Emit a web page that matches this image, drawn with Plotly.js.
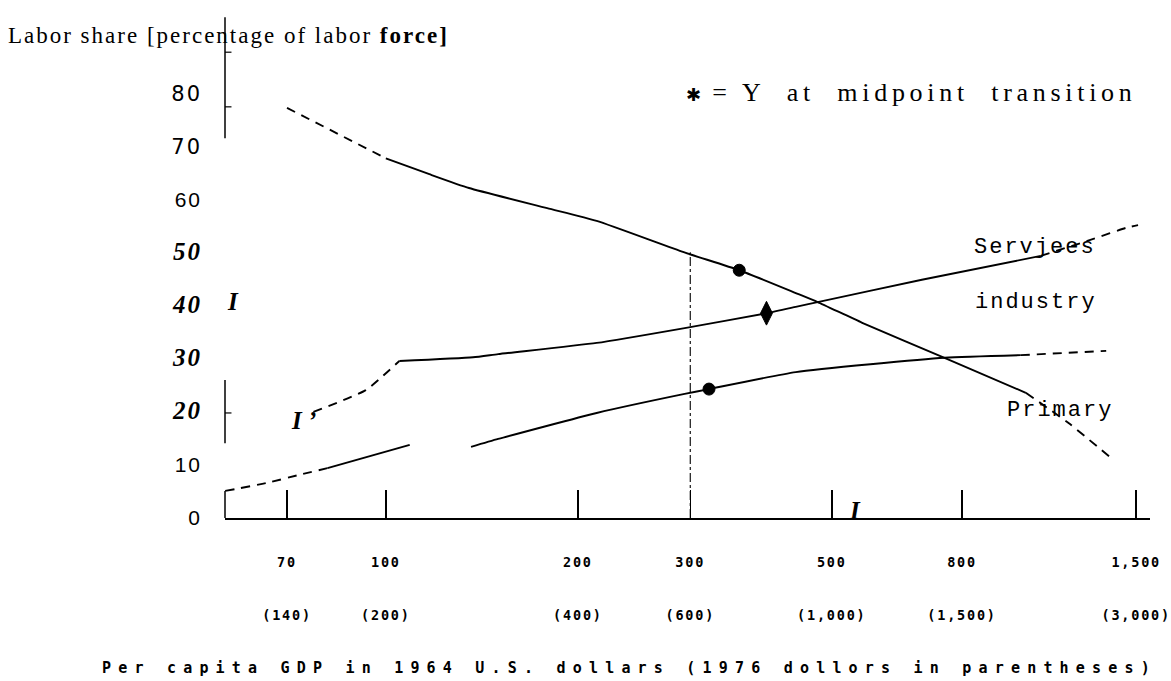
<!DOCTYPE html>
<html><head><meta charset="utf-8">
<script src="https://cdn.plot.ly/plotly-3.0.1.min.js"></script>
<style>html,body{margin:0;padding:0;background:#fff}#chart{width:1171px;height:681px}</style>
</head><body><div id="chart"></div>
<script>
// ---- data ----
const xTickValues = [70, 100, 200, 300, 500, 800, 1500];
const xTickLabels1964 = ["70", "100", "200", "300", "500", "800", "1,500"];
const xTickLabels1976 = ["(140)", "(200)", "(400)", "(600)", "(1,000)", "(1,500)", "(3,000)"];
const yTickValues = [0, 10, 20, 30, 40, 50, 60, 70, 80];
const yTickLabels = ["0", "10", "20", "30", "40", "50", "60", "70", "80"];

const primaryEarlyX = [70, 100];
const primaryEarlyY = [77.3, 67.8];
const primaryX = [100, 117, 135, 179, 214, 293, 358, 439, 475, 558, 751, 1007];
const primaryY = [67.8, 64.8, 62.2, 58.4, 56.0, 50.1, 46.7, 42.4, 40.7, 36.8, 30.2, 23.6];
const primaryLateX = [1007, 1175, 1370];
const primaryLateY = [23.6, 17.9, 11.3];

const servicesEarlyX = [77, 93, 105];
const servicesEarlyY = [20.0, 24.1, 29.6];
const servicesX = [105, 137, 150, 214, 294, 395, 439, 475, 692, 1063];
const servicesY = [29.6, 30.3, 30.9, 33.0, 35.8, 38.6, 39.8, 40.7, 44.9, 49.4];
const servicesLateX = [1063, 1285, 1446, 1510];
const servicesLateY = [49.4, 52.6, 54.7, 55.2];

const industryEarlyX = [56, 65, 73, 81];
const industryEarlyY = [5.1, 6.6, 8.1, 9.4];
const industryX = [81, 109, null, 136, 150, 214, 294, 321, 439, 751, 989];
const industryY = [9.4, 13.8, null, 13.4, 14.9, 19.8, 23.4, 24.3, 27.5, 30.2, 30.7];
const industryLateX = [989, 1346];
const industryLateY = [30.7, 31.5];

const midpointX = [358, 395, 321];
const midpointY = [46.7, 38.6, 24.3];
const midpointSymbols = ["circle", "diamond-tall", "circle"];

const referenceGdp = [300, 300];
const referenceShare = [0, 50.1];

// ---- styling helpers ----
const INK = "#000";
const serif = "Liberation Serif, Times New Roman, serif";
const mono = "Liberation Mono, DejaVu Sans Mono, monospace";
function spaced(t, px) { return '<span style="letter-spacing:' + px + 'px">' + t + '</span>'; }

const solid = { color: INK, width: 1.9, shape: "spline", smoothing: 0.5 };
const dashed = { color: INK, width: 1.9, dash: "9px,7px", shape: "spline", smoothing: 0.5 };

function tr(x, y, line, name) {
  return { x: x, y: y, mode: "lines", line: line, name: name, hoverinfo: "skip", connectgaps: false };
}

const traces = [
  tr(primaryEarlyX, primaryEarlyY, dashed, "Primary"),
  tr(primaryX, primaryY, solid, "Primary"),
  tr(primaryLateX, primaryLateY, dashed, "Primary"),
  tr(servicesEarlyX, servicesEarlyY, dashed, "Services"),
  tr(servicesX, servicesY, solid, "Services"),
  tr(servicesLateX, servicesLateY, dashed, "Services"),
  tr(industryEarlyX, industryEarlyY, dashed, "Industry"),
  tr(industryX, industryY, solid, "Industry"),
  tr(industryLateX, industryLateY, dashed, "Industry"),
  tr(referenceGdp, referenceShare, { color: INK, width: 1.1, dash: "dashdot" }, "Reference"),
  { x: midpointX, y: midpointY, mode: "markers", name: "Midpoint",
    marker: { color: INK, opacity: 1, size: [12, 17, 12], symbol: midpointSymbols, line: { width: 1, color: INK } }, hoverinfo: "skip" }
];

const xTickText = xTickLabels1964.map((t, i) =>
  spaced(t, 1.8) + "<br><br><br>" + spaced(xTickLabels1976[i], 1.8));

const yStyles = {
  "80": "font-family:DejaVu Sans;font-size:21px",
  "70": "font-family:DejaVu Sans;font-size:21px",
  "60": "font-family:Liberation Sans;font-size:21px",
  "50": "font-family:Liberation Serif;font-size:25px;font-weight:bold;font-style:italic",
  "40": "font-family:Liberation Serif;font-size:25px;font-weight:bold;font-style:italic",
  "30": "font-family:Liberation Serif;font-size:25px;font-weight:bold;font-style:italic",
  "20": "font-family:Liberation Serif;font-size:25px;font-weight:bold;font-style:italic",
  "10": "font-family:Liberation Sans;font-size:21px",
  "0": "font-family:Liberation Sans;font-size:21px"
};
const yTickText = yTickLabels.map(t => '<span style="' + yStyles[t] + ';letter-spacing:2px">' + t + '</span>');

// fragments of the scanned y axis
function vseg(y0, y1) {
  return { type: "line", xref: "paper", yref: "y", x0: 0, x1: 0, y0: y0, y1: y1, line: { color: INK, width: 1.5 } };
}
function htick(y) {
  return { type: "line", xref: "paper", yref: "y", x0: 0, x1: 0.007, y0: y, y1: y, line: { color: INK, width: 1.2 } };
}
const shapes = [vseg(71.6, 94.4), htick(87.8), htick(77.5), vseg(14.1, 26.0), htick(19.8), vseg(0, 5.1)];

const annFont = { family: serif, size: 26, color: INK };
const labFont = { family: mono, size: 22, color: INK };
const boldI = { family: serif, size: 25, color: INK };

const annotations = [
  { xref: "paper", yref: "paper", x: 0.496, y: 0.845, xanchor: "left", yanchor: "middle", showarrow: false,
    text: '<span style="font-family:DejaVu Sans;font-size:18px">✱</span>' + spaced(" = Y  at  midpoint  transition", 4.7), font: annFont },
  { xref: "paper", yref: "paper", x: 0.876, y: 0.536, xanchor: "center", yanchor: "middle", showarrow: false,
    text: spaced("Servjees", 2), font: labFont },
  { xref: "paper", yref: "paper", x: 0.877, y: 0.4266, xanchor: "center", yanchor: "middle", showarrow: false,
    text: spaced("industry", 2), font: labFont },
  { xref: "paper", yref: "paper", x: 0.903, y: 0.214, xanchor: "center", yanchor: "middle", showarrow: false,
    text: spaced("Primary", 2), font: labFont },
  { xref: "paper", yref: "paper", x: 0.0086, y: 0.4286, xanchor: "center", yanchor: "middle", showarrow: false,
    text: "<b><i>I</i></b>", font: boldI },
  { xref: "paper", yref: "paper", x: 0.085, y: 0.194, xanchor: "center", yanchor: "middle", showarrow: false,
    text: "<b><i>I ’</i></b>", font: boldI },
  { xref: "paper", yref: "paper", x: 0.681, y: 0.014, xanchor: "center", yanchor: "middle", showarrow: false,
    text: "<b><i>I</i></b>", font: boldI },
  { xref: "paper", yref: "paper", x: 0.4368, y: -0.2976, xanchor: "center", yanchor: "middle", showarrow: false,
    text: spaced("Per capita GDP in 1964 U.S. dollars (1976 dollors in parentheses)", 7.2),
    font: { family: "DejaVu Sans Mono", size: 15, color: INK, weight: "bold" } }
];

const layout = {
  width: 1171, height: 681,
  margin: { l: 225, r: 21, t: 14, b: 163 },
  paper_bgcolor: "#fff", plot_bgcolor: "#fff",
  showlegend: false,
  title: {
    text: spaced("Labor share [percentage of labor <b>force]</b>", 2),
    xref: "container", yref: "container", x: 0.0068, xanchor: "left", y: 0.9486, yanchor: "middle",
    font: { family: serif, size: 23, color: INK }
  },
  xaxis: {
    type: "log", range: [1.7479, 3.1977],
    tickmode: "array", tickvals: xTickValues, ticktext: xTickText,
    ticks: "inside", ticklen: 28, tickwidth: 1.5, tickcolor: INK,
    showline: true, linecolor: INK, linewidth: 2.2,
    showgrid: false, zeroline: false,
    ticklabelstandoff: 31, ticklabeloverflow: "allow",
    tickfont: { family: "DejaVu Sans Mono", size: 13.5, color: INK, weight: "bold" }
  },
  yaxis: {
    range: [0, 95],
    tickmode: "array", tickvals: yTickValues, ticktext: yTickText,
    ticks: "", showline: false, showgrid: false, zeroline: false,
    ticklabelstandoff: 22,
    tickfont: { family: "DejaVu Sans", size: 21, color: INK }
  },
  shapes: shapes,
  annotations: annotations
};

Plotly.newPlot("chart", traces, layout, { staticPlot: true, displayModeBar: false });
</script>
</body></html>
